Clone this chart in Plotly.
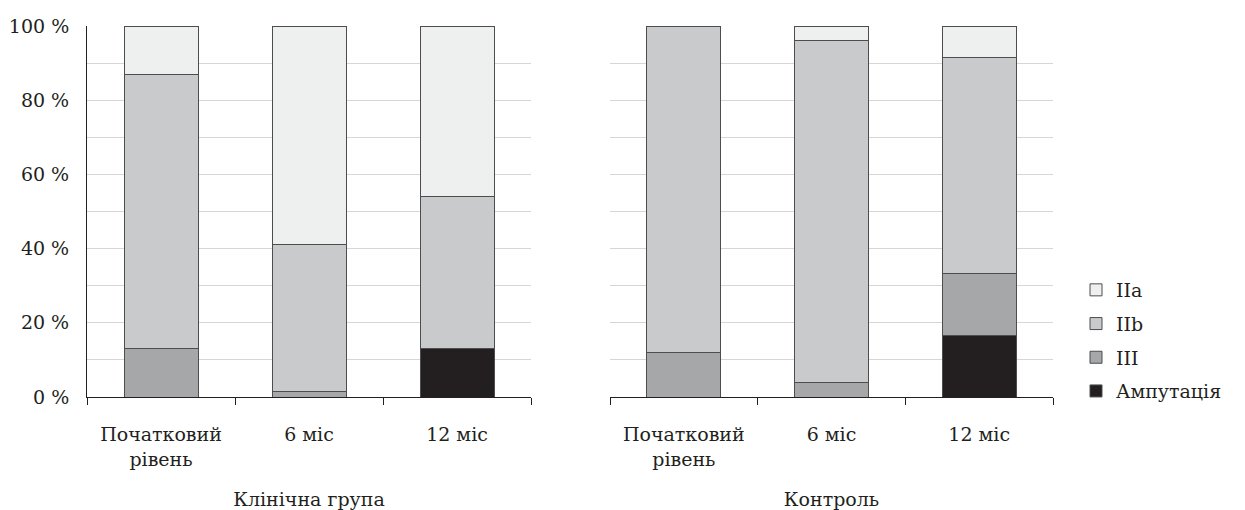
import plotly.graph_objects as go

categories = ["Початковий<br>рівень", "6 міс", "12 міс"]
series_names = ["Ампутація", "III", "IIb", "IIa"]
colors = ["#231f20", "#a6a7a9", "#c9cacc", "#eef0ef"]

clinical = {
    "Ампутація": [0, 0, 13],
    "III": [13, 1.4, 0],
    "IIb": [74, 39.6, 41],
    "IIa": [13, 59, 46],
}
control = {
    "Ампутація": [0, 0, 16.7],
    "III": [12, 4, 16.6],
    "IIb": [88, 92, 58.3],
    "IIa": [0, 4, 8.4],
}

W, H = 1245, 510
FONT = "DejaVu Serif"
TXT = "#231f20"
FS = 19

fig = go.Figure()
for i, (name, col) in enumerate(zip(series_names, colors)):
    rank = 10 * (len(series_names) - i)
    fig.add_trace(go.Bar(x=categories, y=clinical[name], name=name, marker=dict(color=col, line=dict(color="#4d4d4d", width=1)),
                         width=0.5, xaxis="x", yaxis="y", legendgroup=name, legendrank=rank, showlegend=True))
    fig.add_trace(go.Bar(x=categories, y=control[name], name=name, marker=dict(color=col, line=dict(color="#4d4d4d", width=1)),
                         width=0.5, xaxis="x2", yaxis="y2", legendgroup=name, legendrank=rank, showlegend=False))

y0, y1 = 1 - 397 / H, 1 - 26 / H
common_x = dict(type="category", showline=True, linecolor="#231f20", linewidth=1, ticks="outside", tickson="boundaries",
                ticklen=7, tickcolor="#231f20", showgrid=False, automargin=False, ticklabelstandoff=20,
                tickfont=dict(family=FONT, size=FS, color=TXT),
                title=dict(font=dict(family=FONT, size=FS, color=TXT), standoff=24))
grid = dict(range=[0, 100], showgrid=True, gridcolor="#d6d6d6", gridwidth=1, automargin=False, zeroline=False)

fig.update_layout(
    width=W, height=H,
    margin=dict(l=0, r=0, t=0, b=0),
    paper_bgcolor="white", plot_bgcolor="white",
    barmode="stack",
    xaxis=dict(domain=[87 / W, 531 / W], anchor="y", title_text="Клінічна група", **common_x),
    xaxis2=dict(domain=[610 / W, 1053 / W], anchor="y2", title_text="Контроль", **common_x),
    yaxis=dict(domain=[y0, y1], anchor="x", showline=True, linecolor="#231f20", linewidth=1,
               tickvals=[0, 10, 20, 30, 40, 50, 60, 70, 80, 90, 100],
               ticktext=["0 %", "", "20 %", "", "40 %", "", "60 %", "", "80 %", "", "100 %"],
               tickfont=dict(family=FONT, size=FS, color=TXT), ticks="", ticklabelstandoff=13, **grid),
    yaxis2=dict(domain=[y0, y1], anchor="x2", showline=False, showticklabels=False, dtick=10, **grid),
    legend=dict(x=1076 / W, y=1 - 271 / H, xanchor="left", yanchor="top", traceorder="grouped",
                font=dict(family=FONT, size=FS, color=TXT), tracegroupgap=6, itemwidth=30,
                bgcolor="rgba(0,0,0,0)"),
    showlegend=True,
)

fig.write_html("out.html", config={"displayModeBar": False},
               post_script="document.body.style.margin='0';document.body.style.padding='0';")
